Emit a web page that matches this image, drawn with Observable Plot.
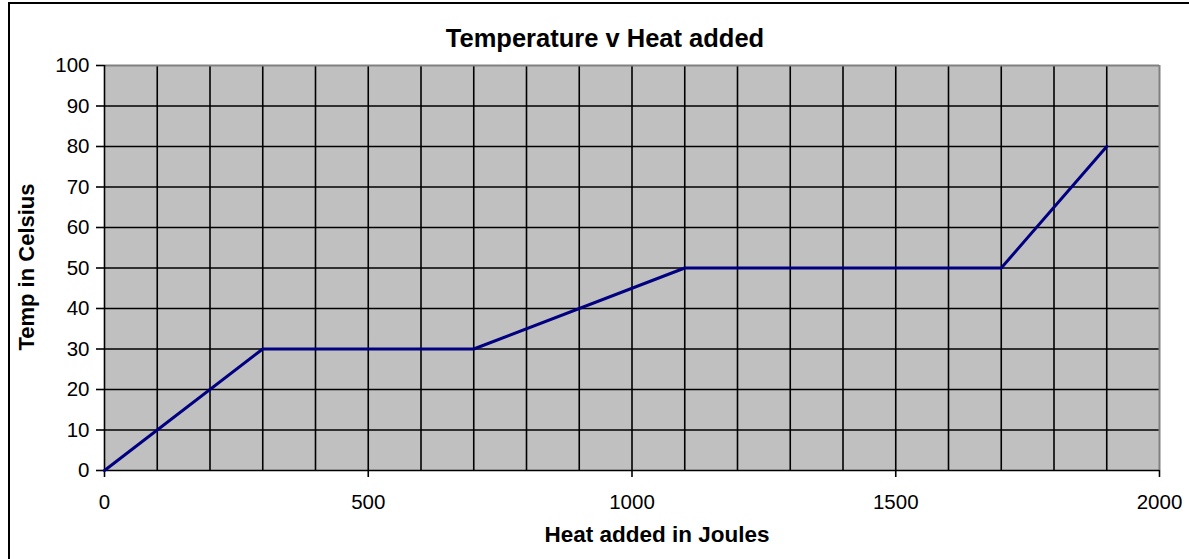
<!DOCTYPE html>
<html>
<head>
<meta charset="utf-8">
<script src="https://cdn.jsdelivr.net/npm/d3@7"></script>
<script src="https://cdn.jsdelivr.net/npm/@observablehq/plot@0.6"></script>
<style>
  html, body { margin: 0; padding: 0; background: #fff; }
  #wrap { position: relative; width: 1189px; height: 559px; overflow: hidden; font-family: "Liberation Sans", Arial, sans-serif; }
  #frame { position: absolute; left: 8px; top: 2px; width: 1200px; height: 580px; border: 2px solid #000; box-sizing: content-box; pointer-events: none; }
  #title { position: absolute; left: 0; width: 1210px; top: 24px; text-align: center; font-weight: bold; font-size: 25.5px; line-height: 28px; color: #000; }
  #chart { position: absolute; left: 0; top: 0; }
  #chart svg g[aria-label$="tick label"] text { font-size: 20.5px; }
</style>
</head>
<body>
<div id="wrap">
  <div id="chart"></div>
  <div id="title">Temperature v Heat added</div>
  <div id="frame"></div>
</div>
<script>
const heat = [0, 300, 700, 1100, 1700, 1900];
const temp = [0, 30, 30, 50, 50, 80];
const xTickLabels = [0, 500, 1000, 1500, 2000];
const yTickLabels = [0, 10, 20, 30, 40, 50, 60, 70, 80, 90, 100];
const xGrid = [100, 200, 300, 400, 500, 600, 700, 800, 900, 1000, 1100, 1200, 1300, 1400, 1500, 1600, 1700, 1800, 1900];
const yGrid = [10, 20, 30, 40, 50, 60, 70, 80, 90];

const data = heat.map((h, i) => ({heat: h, temp: temp[i]}));

const chart = Plot.plot({
  width: 1189,
  height: 559,
  marginLeft: 104,
  marginRight: 30,
  marginTop: 65,
  marginBottom: 89,
  style: {fontFamily: "'Liberation Sans', Arial, sans-serif", fontSize: "20px", color: "#000", background: "transparent"},
  x: {domain: [0, 2000]},
  y: {domain: [0, 100]},
  marks: [
    Plot.frame({fill: "#c0c0c0", stroke: null}),
    Plot.ruleX(xGrid, {stroke: "#000", strokeWidth: 1.6}),
    Plot.ruleY(yGrid, {stroke: "#000", strokeWidth: 1.6}),
    // top and right borders (grey)
    Plot.ruleY([100], {stroke: "#808080", strokeWidth: 2}),
    Plot.ruleX([2000], {stroke: "#808080", strokeWidth: 2}),
    // axes lines
    Plot.ruleY([0], {stroke: "#000", strokeWidth: 1.6}),
    Plot.ruleX([0], {stroke: "#000", strokeWidth: 1.6}),
    Plot.axisX({ticks: xTickLabels, tickSize: 7, tickPadding: 17, tickFormat: d => String(d), fontSize: 20, label: null, strokeWidth: 1.6}),
    Plot.axisY({ticks: yTickLabels, tickSize: 8, tickPadding: 7, tickFormat: d => String(d), fontSize: 20, label: null, strokeWidth: 1.6}),
    Plot.line(data, {x: "heat", y: "temp", stroke: "#000080", strokeWidth: 3}),
    Plot.text(["Heat added in Joules"], {frameAnchor: "bottom", dx: 25, dy: 71, fontWeight: "bold", fontSize: 22.5, fill: "#000"}),
    Plot.text(["Temp in Celsius"], {frameAnchor: "left", textAnchor: "middle", dx: -78, dy: -1, rotate: -90, fontWeight: "bold", fontSize: 22, fill: "#000"})
  ]
});
document.getElementById("chart").appendChild(chart);
</script>
</body>
</html>
